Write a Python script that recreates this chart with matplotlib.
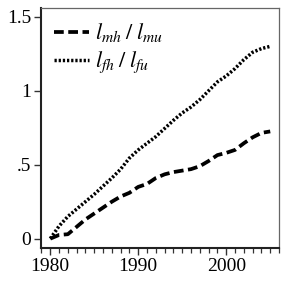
import numpy as np
import matplotlib
matplotlib.use("Agg")
import matplotlib.pyplot as plt
from matplotlib.ticker import MultipleLocator, FixedLocator

plt.rcParams['font.family'] = ['Liberation Serif', 'DejaVu Serif']
plt.rcParams['mathtext.fontset'] = 'stix'

# data
years = list(range(1980, 2006))
ratio_m = [0.0, 0.025, 0.03, 0.08, 0.13, 0.17, 0.21, 0.25, 0.285, 0.31,
           0.35, 0.37, 0.41, 0.435, 0.45, 0.46, 0.47, 0.49, 0.525, 0.565,
           0.58, 0.60, 0.645, 0.685, 0.715, 0.725]
ratio_f = [0.0, 0.085, 0.15, 0.20, 0.25, 0.30, 0.355, 0.41, 0.47, 0.545,
           0.60, 0.645, 0.69, 0.745, 0.80, 0.85, 0.89, 0.94, 1.00, 1.06,
           1.10, 1.15, 1.21, 1.26, 1.285, 1.30]
ytick_vals = [0, 0.5, 1, 1.5]
ytick_labels = ['0', '.5', '1', '1.5']
xtick_vals = [1980, 1990, 2000]

fig = plt.figure(figsize=(2.81, 2.88), dpi=100)
ax = fig.add_axes([0.146, 0.139, 0.847, 0.833])

ax.plot(years, ratio_m, color='black', lw=2.7, linestyle=(0, (2.6, 1.2)),
        label=r'$l_{mh}\;/\;l_{mu}$')
ax.plot(years, ratio_f, color='black', lw=2.5, linestyle=(0, (0.65, 0.55)),
        label=r'$l_{fh}\;/\;l_{fu}$')

ax.set_xlim(1978.95, 2006)
ax.set_ylim(-0.063, 1.559)

ax.xaxis.set_major_locator(FixedLocator(xtick_vals))
ax.xaxis.set_minor_locator(MultipleLocator(1))
ax.set_yticks(ytick_vals)
ax.set_yticklabels(ytick_labels)
ax.tick_params(axis='both', which='major', direction='out', length=5, width=1,
               labelsize=14, color='#333333', pad=2)
ax.tick_params(axis='x', which='minor', direction='out', length=3.5, width=0.9,
               color='#333333')

for s in ['left', 'bottom']:
    ax.spines[s].set_linewidth(1.5)
    ax.spines[s].set_color('#222222')
for s in ['top', 'right']:
    ax.spines[s].set_linewidth(0.9)
    ax.spines[s].set_color('#666666')

ax.legend(loc='upper left', frameon=False, fontsize=16, handlelength=1.55,
          handletextpad=0.3, labelspacing=0.25, borderaxespad=0.2,
          bbox_to_anchor=(0.0, 1.0))

fig.savefig('out.png', dpi=100)
